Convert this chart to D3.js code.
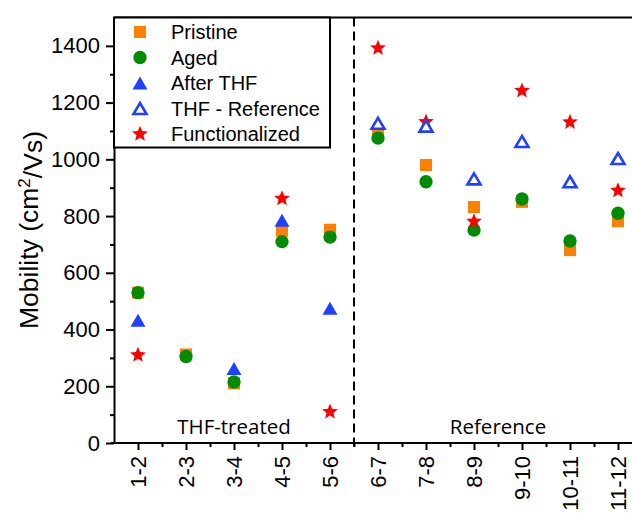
<!DOCTYPE html>
<html>
<head>
<meta charset="utf-8">
<script src="https://cdn.jsdelivr.net/npm/d3@7"></script>
<style>
    body { margin: 0; background: white; }
    svg { display: block; }
</style>
</head>
<body>
<div id="chart1"></div>
<script>
var SVGWidth = 632;
var SVGHeight = 513;

var categories = ["1-2", "2-3", "3-4", "4-5", "5-6", "6-7", "7-8", "8-9", "9-10", "10-11", "11-12"];
var pristine = [530, 312, 210, 748, 752, 1100, 980, 832, 850, 680, 782];
var aged = [530, 305, 215, 710, 726, 1075, 921, 751, 860, 712, 810];
var afterTHF = [433, null, 263, 785, 475, null, null, null, null, null, null];
var thfReference = [null, null, null, null, null, 1127, 1117, 931, 1063, 921, 1003];
var functionalized = [310, null, null, 862, 110, 1392, 1132, 781, 1242, 1131, 890];
var yTicks = [0, 200, 400, 600, 800, 1000, 1200, 1400];
var groupLabels = [
    { text: "THF-treated", at: 2 },
    { text: "Reference", at: 7.5 }
];

var orange = "#ff8000";
var green = "#008c00";
var blue = "#2040ff";
var red = "#ff0000";

var x = d3.scaleLinear().domain([-0.5, 11.5]).range([114, 690]);
var y = d3.scaleLinear().domain([0, 1500]).range([443, 17.5]);

/*
 * Triangle centred on its bounding box (not its centroid).
 */
function trianglePath(w, h) {
    return "M0," + (-h / 2) + "L" + (w / 2) + "," + (h / 2) + "L" + (-w / 2) + "," + (h / 2) + "Z";
}

/*
 * Five pointed star, a bit fatter than d3.symbolStar.
 */
function starPath(r, inner) {
    var p = d3.path();
    for (var k = 0; k < 10; k++) {
        var rr = (k % 2 === 0) ? r : r * inner;
        var a = k * Math.PI / 5;
        var px = rr * Math.sin(a);
        var py = -rr * Math.cos(a);
        if (k === 0) p.moveTo(px, py); else p.lineTo(px, py);
    }
    p.closePath();
    return p.toString();
}

var series = [
    { name: "Pristine", data: pristine, d: d3.symbol(d3.symbolSquare, 144)(), fill: orange, stroke: "none", sw: 0 },
    { name: "Aged", data: aged, d: d3.symbol(d3.symbolCircle, 140)(), fill: green, stroke: "none", sw: 0 },
    { name: "Functionalized", data: functionalized, d: starPath(8.3, 0.44), fill: red, stroke: "none", sw: 0 },
    { name: "After THF", data: afterTHF, d: trianglePath(15, 13), fill: blue, stroke: "none", sw: 0 },
    { name: "THF - Reference", data: thfReference, d: trianglePath(13, 11), fill: "white", stroke: blue, sw: 2.6 }
];
var legendOrder = ["Pristine", "Aged", "After THF", "THF - Reference", "Functionalized"];

var svg = d3.select("#chart1")
    .append("svg")
        .attr("width", SVGWidth)
        .attr("height", SVGHeight)
        .style("font-family", "'Liberation Sans', Arial, sans-serif");

// Top frame line
svg.append("line")
    .attr("x1", x(-0.5)).attr("x2", x(11.5))
    .attr("y1", y(1500)).attr("y2", y(1500))
    .attr("stroke", "black").attr("stroke-width", 2);

// Dashed separator between the two groups
svg.append("line")
    .attr("x1", x(4.5)).attr("x2", x(4.5))
    .attr("y1", y(1500)).attr("y2", y(0) + 4)
    .attr("stroke", "black").attr("stroke-width", 2)
    .attr("stroke-dasharray", "9,5");

// Group labels
svg.selectAll(".group")
    .data(groupLabels)
    .enter()
    .append("text")
    .attr("class", "group")
    .attr("x", function(d) { return x(d.at); })
    .attr("y", 434)
    .attr("text-anchor", "middle")
    .style("font-family", "'Open Sans', sans-serif")
    .style("font-size", "20.5px")
    .text(function(d) { return d.text; });

// Markers
series.forEach(function(s) {
    svg.append("g")
        .selectAll("path")
        .data(s.data.map(function(v, i) { return { v: v, i: i }; }).filter(function(d) { return d.v !== null; }))
        .enter()
        .append("path")
        .attr("d", s.d)
        .attr("transform", function(d) { return "translate(" + x(d.i) + "," + y(d.v) + ")"; })
        .attr("fill", s.fill)
        .attr("stroke", s.stroke)
        .attr("stroke-width", s.sw)
        .attr("stroke-linejoin", "miter");
});

// Left axis, minor ticks
svg.append("g")
    .attr("transform", "translate(" + x(-0.5) + ",0)")
    .call(d3.axisLeft(y).tickValues(d3.range(100, 1500, 200)).tickSize(4).tickFormat(""))
    .call(function(g) { g.select(".domain").remove(); })
    .selectAll("line").attr("stroke-width", 2);

// Left axis
var yAxis = svg.append("g")
    .attr("transform", "translate(" + x(-0.5) + ",0)")
    .call(d3.axisLeft(y).tickValues(yTicks).tickSize(8).tickSizeOuter(0).tickPadding(6).tickFormat(d3.format("d")));
yAxis.select(".domain").attr("stroke-width", 2);
yAxis.selectAll("line").attr("stroke-width", 2);
yAxis.selectAll("text")
    .style("font-family", "'Liberation Sans', Arial, sans-serif")
    .style("font-size", "22px")
    .attr("fill", "black");

// Bottom axis, minor ticks
svg.append("g")
    .attr("transform", "translate(0," + y(0) + ")")
    .call(d3.axisBottom(x).tickValues(d3.range(0.5, 11, 1)).tickSize(4).tickFormat(""))
    .call(function(g) { g.select(".domain").remove(); })
    .selectAll("line").attr("stroke-width", 2);

// Bottom axis
var xAxis = svg.append("g")
    .attr("transform", "translate(0," + y(0) + ")")
    .call(d3.axisBottom(x).tickValues(d3.range(0, categories.length)).tickSize(7).tickSizeOuter(0)
        .tickFormat(function(i) { return categories[i]; }));
xAxis.select(".domain").attr("d", "M" + (x(-0.5) - 3) + ",0H" + x(11.5)).attr("stroke-width", 2);
xAxis.selectAll("line").attr("stroke-width", 2);
xAxis.selectAll("text")
    .attr("y", 0).attr("dy", "0.35em")
    .attr("transform", "translate(0,13) rotate(-90)")
    .attr("text-anchor", "end")
    .attr("fill", "black")
    .style("font-family", "'Liberation Sans', Arial, sans-serif")
    .style("font-size", "22px");

// Y axis title
var title = svg.append("text")
    .attr("transform", "translate(38," + 230 + ") rotate(-90)")
    .attr("text-anchor", "middle")
    .style("font-size", "26.5px");
title.append("tspan").text("Mobility (cm");
title.append("tspan").attr("dy", "-0.45em").style("font-size", "17px").text("2");
title.append("tspan").attr("dy", "0.45em").text("/Vs)");

// Legend
var legend = svg.append("g");
legend.append("rect")
    .attr("x", 114).attr("y", 17.5)
    .attr("width", 216).attr("height", 130)
    .attr("fill", "white")
    .attr("stroke", "black").attr("stroke-width", 2);

var rows = legend.selectAll(".row")
    .data(legendOrder.map(function(n) { return series.filter(function(s) { return s.name === n; })[0]; }))
    .enter()
    .append("g")
    .attr("class", "row")
    .attr("transform", function(d, i) { return "translate(140," + (32 + i * 25.5) + ")"; });

rows.append("path")
    .attr("d", function(d) { return d.d; })
    .attr("fill", function(d) { return d.fill; })
    .attr("stroke", function(d) { return d.stroke; })
    .attr("stroke-width", function(d) { return d.sw; });

rows.append("text")
    .attr("x", 31)
    .attr("dy", "0.35em")
    .style("font-size", "20px")
    .text(function(d) { return d.name; });
</script>
</body>
</html>
